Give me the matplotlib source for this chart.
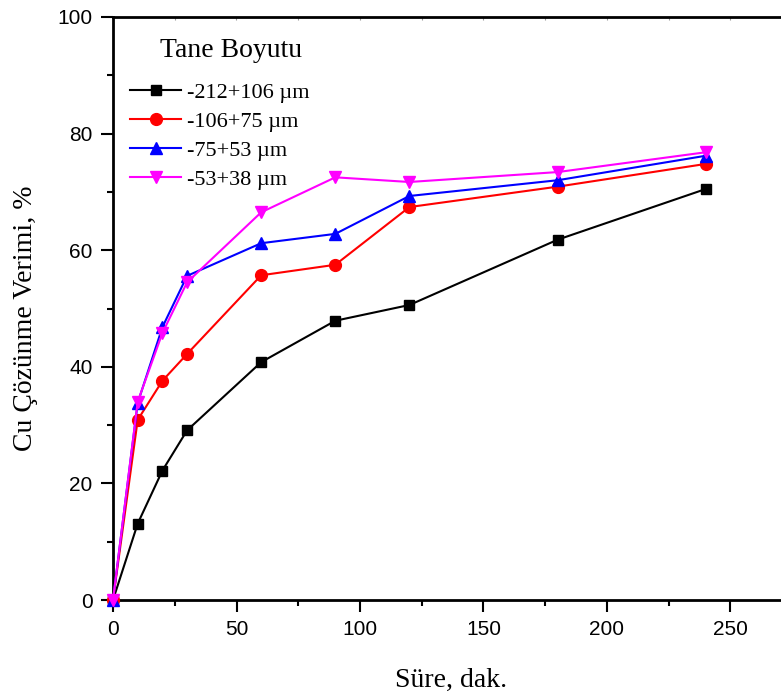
import matplotlib
matplotlib.use("Agg")
import matplotlib.pyplot as plt
from matplotlib.ticker import MultipleLocator

# Leaching time (min) and Cu dissolution yield (%) for each particle size fraction
time_min = [0, 10, 20, 30, 60, 90, 120, 180, 240]
yield_212_106 = [0, 13.1, 22.2, 29.1, 40.8, 47.9, 50.6, 61.8, 70.5]
yield_106_75 = [0, 30.9, 37.6, 42.2, 55.7, 57.5, 67.4, 70.9, 74.8]
yield_75_53 = [0, 33.8, 46.8, 55.6, 61.2, 62.8, 69.3, 72.0, 76.2]
yield_53_38 = [0, 34.0, 45.8, 54.5, 66.5, 72.5, 71.7, 73.4, 76.8]

labels = ["-212+106 µm", "-106+75 µm", "-75+53 µm", "-53+38 µm"]
legend_title = "Tane Boyutu"
series = [yield_212_106, yield_106_75, yield_75_53, yield_53_38]
colors = ["#000000", "#ff0000", "#0000ff", "#ff00ff"]
markers = ["s", "o", "^", "v"]
marker_sizes = [7.5, 8.5, 9.0, 9.0]

serif = ["Liberation Serif", "DejaVu Serif"]
sans = ["Liberation Sans", "DejaVu Sans"]

W, H = 781, 700
fig = plt.figure(figsize=(W / 100, H / 100), dpi=100)
ax_w = 280 * 2.47
ax = fig.add_axes([113 / W, 100 / H, ax_w / W, 583 / H])

for y, lab, c, m, ms in zip(series, labels, colors, markers, marker_sizes):
    ax.plot(time_min, y, color=c, marker=m, markersize=ms, linewidth=1.5,
            label=lab, clip_on=False, zorder=3)

ax.set_xlim(0, 280)
ax.set_ylim(0, 100)
ax.xaxis.set_major_locator(MultipleLocator(50))
ax.xaxis.set_minor_locator(MultipleLocator(25))
ax.yaxis.set_major_locator(MultipleLocator(20))
ax.yaxis.set_minor_locator(MultipleLocator(10))

for s in ax.spines.values():
    s.set_linewidth(2.0)

ax.tick_params(which="major", direction="out", length=8.6, width=1.5,
               labelsize=15, pad=6)
ax.tick_params(which="minor", direction="out", length=4.3, width=1.5)
for lab in ax.get_xticklabels() + ax.get_yticklabels():
    lab.set_fontfamily(sans)

# fine inward ticks along the top edge
top = ax.secondary_xaxis("top")
top.xaxis.set_major_locator(MultipleLocator(25))
top.tick_params(direction="in", length=2.5, width=0.8, colors="#9a9a9a",
                labeltop=False)
top.spines["top"].set_visible(False)

ax.set_xlabel("Süre, dak.", fontsize=20, fontfamily=serif)
ax.xaxis.set_label_coords((451 - 113) / ax_w, (600 - 668) / 583)
ax.set_ylabel("Cu Çözünme Verimi, %", fontsize=20, fontfamily=serif)
ax.yaxis.set_label_coords((38 - 113) / ax_w, (600 - 318) / 583)

# legend entries, with the heading set above them
leg = ax.legend(loc="upper left", bbox_to_anchor=((130 - 113) / ax_w, (600 - 82) / 583),
                frameon=False, prop={"family": serif, "size": 16},
                borderpad=0, borderaxespad=0,
                handlelength=2.3, handletextpad=0.27, labelspacing=0.38)
ax.text((231 - 113) / ax_w, (600 - 57) / 583, legend_title, transform=ax.transAxes,
        ha="center", va="baseline", fontsize=20, fontfamily=serif)

fig.savefig("out.png", dpi=100)
